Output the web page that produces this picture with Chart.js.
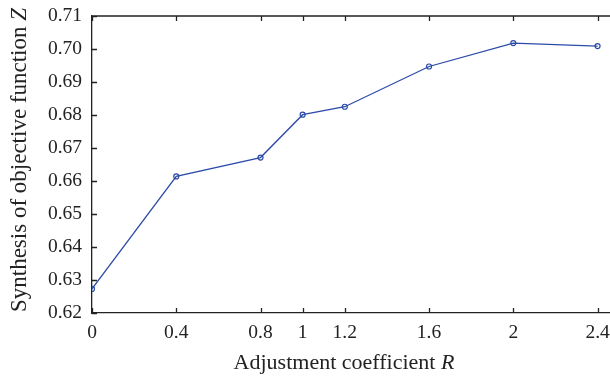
<!DOCTYPE html>
<html>
<head>
<meta charset="utf-8">
<script src="https://cdn.jsdelivr.net/npm/chart.js@4/dist/chart.umd.min.js"></script>
<style>
  html, body { margin: 0; padding: 0; background: #fff; }
  #wrap { width: 610px; height: 377px; }
</style>
</head>
<body>
<div id="wrap"><canvas id="c" width="610" height="377"></canvas></div>
<script>
// values
const rValues = [0, 0.4, 0.8, 1, 1.2, 1.6, 2, 2.4];
const zValues = [0.6273, 0.6614, 0.6671, 0.6801, 0.6825, 0.6947, 0.7018, 0.7009];
const xTickValues = [0, 0.4, 0.8, 1, 1.2, 1.6, 2, 2.4];
const xLabel = ['Adjustment coefficient ', 'R'];
const yLabel = ['Synthesis of objective function ', 'Z'];

const FONT = "'Liberation Serif', 'DejaVu Serif', serif";
const INK = '#222';
const LINE = '#2b4ba8';

// inward ticks, top frame line and the axis titles (italic symbols)
const framePlugin = {
  id: 'frame',
  afterDraw(chart) {
    const { ctx, chartArea: a, scales: { x, y } } = chart;
    ctx.save();
    ctx.strokeStyle = INK;
    ctx.lineWidth = 1.3;
    ctx.beginPath();
    ctx.moveTo(a.left, a.top); ctx.lineTo(a.right, a.top);
    xTickValues.forEach((v) => {
      const px = Math.round(x.getPixelForValue(v)) + 0.5;
      ctx.moveTo(px, a.bottom); ctx.lineTo(px, a.bottom - 5);
      ctx.moveTo(px, a.top); ctx.lineTo(px, a.top + 5);
    });
    y.ticks.forEach((t) => {
      const py = Math.round(y.getPixelForValue(t.value)) + 0.5;
      ctx.moveTo(a.left, py); ctx.lineTo(a.left + 5, py);
    });
    ctx.stroke();

    ctx.fillStyle = INK;
    ctx.textBaseline = 'middle';
    const drawTitle = (parts, cx, cy, rot, size) => {
      ctx.save();
      ctx.translate(cx, cy);
      ctx.rotate(rot);
      ctx.font = `${size}px ${FONT}`;
      const w0 = ctx.measureText(parts[0]).width;
      ctx.font = `italic ${size}px ${FONT}`;
      const w1 = ctx.measureText(parts[1]).width;
      const sx = -(w0 + w1) / 2;
      ctx.textAlign = 'left';
      ctx.font = `${size}px ${FONT}`;
      ctx.fillText(parts[0], sx, 0);
      ctx.font = `italic ${size}px ${FONT}`;
      ctx.fillText(parts[1], sx + w0, 0);
      ctx.restore();
    };
    drawTitle(xLabel, 344, 363, 0, 22);
    drawTitle(yLabel, 20, 160, -Math.PI / 2, 23);
    ctx.restore();
  },
};

new Chart(document.getElementById('c'), {
  type: 'line',
  data: {
    labels: rValues,
    datasets: [{
      data: rValues.map((r, i) => ({ x: r, y: zValues[i] })),
      borderColor: LINE,
      borderWidth: 1.3,
      pointRadius: 2.5,
      pointBorderWidth: 1.2,
      pointBorderColor: LINE,
      pointBackgroundColor: 'rgba(255,255,255,0)',
      tension: 0,
    }],
  },
  options: {
    responsive: false,
    animation: false,
    layout: { autoPadding: false, padding: { top: 16, right: 0, left: 0, bottom: 0 } },
    plugins: { legend: { display: false }, tooltip: { enabled: false } },
    scales: {
      x: {
        type: 'linear',
        min: 0,
        max: 2.459,
        afterBuildTicks: (s) => { s.ticks = xTickValues.map((v) => ({ value: v })); },
        afterFit: (s) => { s.height = 64; s.paddingLeft = 0; s.paddingRight = 0; },
        grid: { display: false },
        border: { display: true, color: INK, width: 1.3 },
        ticks: {
          color: INK,
          font: { family: FONT, size: 19.5 },
          padding: 0,
          maxRotation: 0,
          autoSkip: false,
          callback: (v) => String(v),
        },
      },
      y: {
        min: 0.62,
        max: 0.71,
        afterFit: (s) => { s.width = 92; s.paddingTop = 0; s.paddingBottom = 0; },
        grid: { display: false },
        border: { display: true, color: INK, width: 1.3 },
        ticks: {
          color: INK,
          stepSize: 0.01,
          font: { family: FONT, size: 19.5 },
          padding: 2,
          callback: (v) => v.toFixed(2),
        },
      },
    },
  },
  plugins: [framePlugin],
});
</script>
</body>
</html>
